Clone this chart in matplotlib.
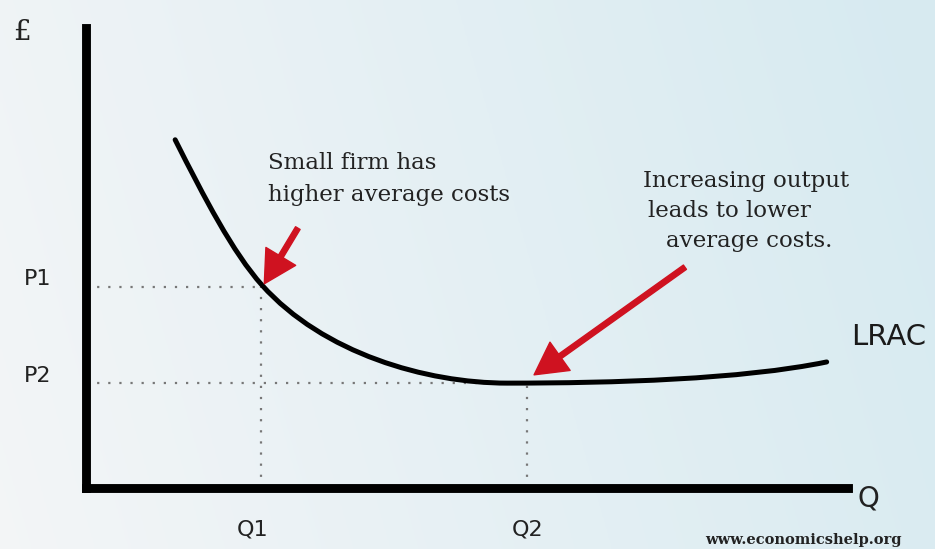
import matplotlib
matplotlib.use("Agg")
import matplotlib.pyplot as plt
from matplotlib.path import Path
from matplotlib.patches import PathPatch
import numpy as np

# LRAC curve (Q units 0-100, cost units 0-100),
# as cubic bezier pieces: node, handle, handle, node, handle, handle, node ...
lrac_q = [11.7, 15.5, 19.3, 23.1, 31.1, 44.6, 55.3, 69.3, 86.0, 97.2]
lrac_c = [75.7, 63.2, 51.1, 44.1, 29.3, 22.8, 22.8, 22.8, 23.6, 27.4]

q_marks = [23.0, 57.9]
p_marks = [43.7, 22.8]
q_labels = ["Q1", "Q2"]
p_labels = ["P1", "P2"]

note_small = ["Small firm has", "higher average costs"]
note_big = ["Increasing output", "leads to lower", "average costs."]

# red arrows: (tail q, tail c, tip q, tip c)
arrows = [(27.8, 56.5, 23.4, 44.4),
          (78.6, 48.0, 58.8, 24.6)]

RED = "#cf1220"
INK = "#222222"
SERIF = ["DejaVu Serif"]
SANS = ["DejaVu Sans"]

fig = plt.figure(figsize=(9.35, 5.49), dpi=100)

# light background, greyish white on the left to pale blue on the right
bg = fig.add_axes([0, 0, 1, 1])
gx = np.linspace(0, 1, 300)
gy = np.linspace(0, 1, 200)
GX, GY = np.meshgrid(gx, gy)
c0 = np.array([0.955, 0.962, 0.968])
c1 = np.array([0.845, 0.920, 0.945])
t = np.clip(GX * 0.9 + (1 - GY) * 0.15, 0, 1)[..., None]
bg.imshow(c0 * (1 - t) + c1 * t, aspect="auto", extent=[0, 1, 0, 1])
bg.axis("off")

ax = fig.add_axes([86 / 935, 61 / 549, 762 / 935, 460 / 549])
ax.set_facecolor("none")
ax.set_xlim(0, 100)
ax.set_ylim(0, 100)
for s in ["top", "right"]:
    ax.spines[s].set_visible(False)
for s in ["left", "bottom"]:
    ax.spines[s].set_linewidth(6.4)
    ax.spines[s].set_capstyle("projecting")
ax.set_xticks([])
ax.set_yticks([])

# dotted guides
for q, p in zip(q_marks, p_marks):
    ax.plot([0, q], [p, p], color="#777777", lw=1.6, ls=(0, (1, 4)), zorder=2)
    ax.plot([q, q], [0, p], color="#777777", lw=1.6, ls=(0, (1, 4)), zorder=2)

codes = [Path.MOVETO] + [Path.CURVE4] * (len(lrac_q) - 1)
curve = Path(np.column_stack([lrac_q, lrac_c]), codes)
ax.add_patch(PathPatch(curve, facecolor="none", edgecolor="black", lw=3.6,
                       capstyle="round", zorder=3))

for x0, y0, x1, y1 in arrows:
    ax.annotate("", xy=(x1, y1), xytext=(x0, y0),
                arrowprops=dict(color=RED, width=3.8, headwidth=25,
                                headlength=23, shrink=0), zorder=4)

ax.text(q_marks[0] - 1.1, -9.1, q_labels[0], ha="center", va="center",
        family=SANS, fontsize=16, color=INK, clip_on=False)
ax.text(q_marks[1], -9.1, q_labels[1], ha="center", va="center",
        family=SANS, fontsize=16, color=INK, clip_on=False)
ax.text(-6.4, 45.5, p_labels[0], ha="center", va="center", family=SANS,
        fontsize=16, color=INK, clip_on=False)
ax.text(-6.4, 24.3, p_labels[1], ha="center", va="center", family=SANS,
        fontsize=16, color=INK, clip_on=False)

ax.text(-8.4, 99.0, "£", ha="center", va="center", family=SERIF,
        fontsize=20, color=INK, clip_on=False)
ax.text(101.3, -2.2, "Q", ha="left", va="center", family=SANS,
        fontsize=20, color=INK, clip_on=False)
ax.text(100.4, 32.8, "LRAC", ha="left", va="center", family=SANS,
        fontsize=21, color="#1a1a1a", clip_on=False)

for line, y in zip(note_small, [70.6, 63.7]):
    ax.text(23.9, y, line, ha="left", va="center", family=SERIF,
            fontsize=16.5, color=INK, clip_on=False)
for line, x, y in zip(note_big, [73.1, 73.8, 76.1], [66.7, 60.2, 53.7]):
    ax.text(x, y, line, ha="left", va="center", family=SERIF,
            fontsize=16.5, color=INK, clip_on=False)

ax.text(94.1, -11.3, "www.economicshelp.org", ha="center", va="center",
        family=SERIF, fontsize=10.5, fontweight="bold", color=INK,
        clip_on=False)

fig.savefig("out.png", dpi=100)
